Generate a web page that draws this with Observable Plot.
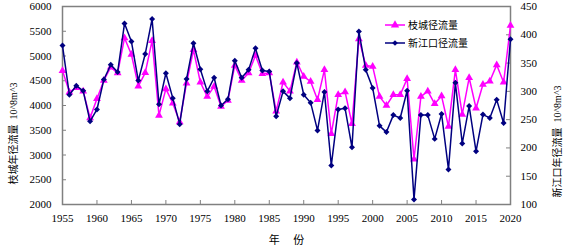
<!DOCTYPE html>
<html><head><meta charset="utf-8">
<script src="https://cdn.jsdelivr.net/npm/d3@7"></script>
<script src="https://cdn.jsdelivr.net/npm/@observablehq/plot@0.6"></script>
<style>body{margin:0;background:#fff} svg{display:block}</style>
</head><body><div id="chart"></div>
<script>
const years = d3.range(1955, 2021);
const zhicheng = [4700,4270,4360,4290,3750,4135,4505,4775,4655,5365,
  5030,4390,4660,5310,3800,4335,4045,3665,4450,5125,
  4470,4180,4385,3980,4100,4810,4505,4655,5010,4640,
  4655,3885,4470,4290,4875,4585,4485,4115,4720,3430,
  4215,4275,3630,5345,4810,4790,4180,4000,4215,4215,
  4540,2915,4180,4290,4035,4190,3575,4720,3820,4560,
  3945,4425,4490,4820,4470,5615];
const xinjiangkou = [381,294,310,301,247,268,321,347,334,420,
  388,319,366,428,277,332,288,242,322,385,
  339,300,324,275,286,354,324,338,376,337,
  335,256,300,288,350,294,280,231,299,169,
  268,270,201,406,338,306,239,228,258,253,
  301,109,258,258,216,260,162,315,208,274,
  194,259,253,285,244,392];
const xTicks = [1955,1960,1965,1970,1975,1980,1985,1990,1995,2000,2005,2010,2015,2020];
const leftTicks = [2000,2500,3000,3500,4000,4500,5000,5500,6000];
const rightTicks = [100,150,200,250,300,350,400,450];
const seriesNames = ["枝城径流量","新江口径流量"];
const leftTitle = "枝城年径流量  10^8m^3";
const rightTitle = "新江口年径流量  10^8m^3";
const xTitle = "年　 份";

const MAGENTA = "#ff00ff", NAVY = "#000080";
const FONT = "'Liberation Serif','Noto Sans CJK SC',serif";
const L0 = 2000, L1 = 6000, R0 = 100, R1 = 450;
const toLeft = v => L0 + (v - R0) * (L1 - L0) / (R1 - R0);
const fromLeft = y => R0 + (y - L0) * (R1 - R0) / (L1 - L0);

const zc = years.map((y, i) => ({year: y, v: zhicheng[i]}));
const xj = years.map((y, i) => ({year: y, v: toLeft(xinjiangkou[i])}));

function legend(index, scales, values, dim) {
  const g = d3.create("svg:g").attr("font-family", FONT).attr("font-size", 10).attr("text-anchor", "start");
  const x0 = dim.width - dim.marginRight - 125;
  const items = [
    {name: seriesNames[0], color: MAGENTA, sym: d3.symbol(d3.symbolTriangle, 30)},
    {name: seriesNames[1], color: NAVY, sym: d3.symbol(d3.symbolSquare, 16)}
  ];
  items.forEach((it, i) => {
    const y = dim.marginTop + 19 + i * 18;
    g.append("line").attr("x1", x0).attr("x2", x0 + 20).attr("y1", y).attr("y2", y)
      .attr("stroke", it.color).attr("stroke-width", 1.5);
    g.append("path").attr("d", it.sym()).attr("fill", it.color)
      .attr("transform", `translate(${x0 + 10},${y})` + (i === 1 ? " rotate(45)" : ""));
    g.append("text").attr("x", x0 + 23).attr("y", y).attr("dy", "0.35em").attr("fill", "black").text(it.name);
  });
  return g.node();
}

const chart = Plot.plot({
  width: 567, height: 248,
  marginLeft: 62, marginRight: 57, marginTop: 6, marginBottom: 44,
  style: {fontFamily: FONT, fontSize: "11px", background: "white", color: "black", overflow: "visible"},
  x: {domain: [1955, 2020]},
  y: {domain: [L0, L1]},
  marks: [
    Plot.axisX(xTicks, {tickSize: 0, tickPadding: 10, tickFormat: d => String(d), label: null}),
    Plot.axisY(leftTicks, {anchor: "left", tickSize: 0, tickPadding: 11, tickFormat: d => String(d), label: null}),
    Plot.axisY(rightTicks.map(toLeft), {anchor: "right", tickSize: 0, tickPadding: 10,
      tickFormat: d => String(Math.round(fromLeft(d))), label: null}),
    Plot.ruleX(xTicks, {x: d => d, insetTop: 194, stroke: "#808080"}),
    Plot.ruleY(leftTicks, {y: d => d, insetRight: 444, stroke: "#808080"}),
    Plot.ruleY(rightTicks.map(toLeft), {y: d => d, insetLeft: 444, stroke: "#808080"}),
    Plot.frame({stroke: "#808080", strokeWidth: 1.5}),
    Plot.line(zc, {x: "year", y: "v", stroke: MAGENTA, strokeWidth: 1.5}),
    Plot.dot(zc, {x: "year", y: "v", symbol: "triangle", r: 2.9, fill: MAGENTA}),
    Plot.line(xj, {x: "year", y: "v", stroke: NAVY, strokeWidth: 1.5}),
    Plot.dot(xj, {x: "year", y: "v", symbol: "diamond2", r: 2.7, fill: NAVY}),
    Plot.text([leftTitle], {frameAnchor: "left", text: d => d, rotate: -90, dx: -49, dy: 28,
      fontSize: 10, textAnchor: "middle", lineAnchor: "middle"}),
    Plot.text([rightTitle], {frameAnchor: "right", text: d => d, rotate: -90, dx: 47, dy: 36,
      fontSize: 10, textAnchor: "middle", lineAnchor: "middle"}),
    Plot.text([xTitle], {frameAnchor: "bottom", text: d => d, dy: 36, fontSize: 11,
      textAnchor: "middle", lineAnchor: "middle"}),
    legend
  ]
});
document.getElementById("chart").append(chart);
</script>
</body></html>
